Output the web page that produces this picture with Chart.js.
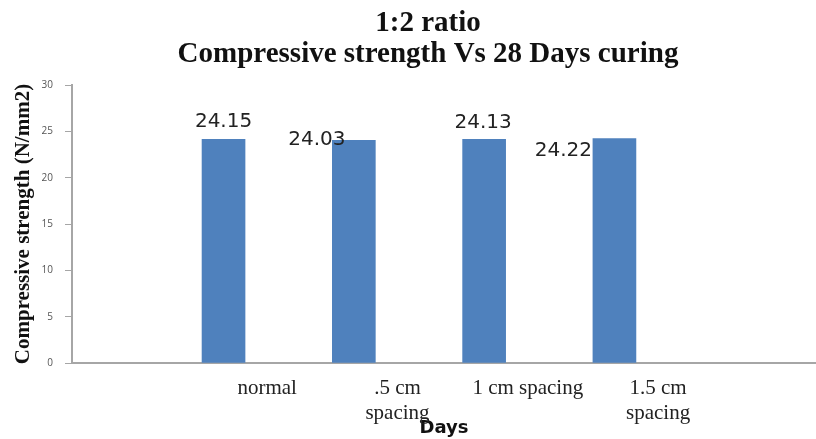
<!DOCTYPE html>
<html>
<head>
<meta charset="utf-8">
<script src="https://cdn.jsdelivr.net/npm/chart.js@4.4.0/dist/chart.umd.min.js"></script>
<style>
    body { margin: 0; background: #fff; }
    #wrap { width: 816px; height: 439px; position: relative; }
</style>
</head>
<body>
<div id="wrap"><canvas id="chart-strength"></canvas></div>
<script>
// chart data
const titleLines = ["1:2 ratio", "Compressive strength Vs 28 Days curing"];
const categories = ["normal", [".5 cm", "spacing"], "1 cm spacing", ["1.5 cm", "spacing"]];
const strength = [24.15, 24.03, 24.13, 24.22];
const yTicks = [0, 5, 10, 15, 20, 25, 30];
const xTitle = "Days";
const yTitle = "Compressive strength (N/mm2)";

// label nudges (px) relative to top of each bar
const labelDx = [0, -37, -1, -51];
const labelDy = [-17, -1, -17, 12];
const labelShift = 0.335; // category label sits right of its bar

const ctx = document.getElementById("chart-strength");

const barLabels = {
    id: "barLabels",
    afterDatasetsDraw(chart) {
        const c = chart.ctx;
        const meta = chart.getDatasetMeta(0);
        c.save();
        c.font = "20px 'DejaVu Sans'";
        c.fillStyle = "#222";
        c.textAlign = "center";
        c.textBaseline = "middle";
        meta.data.forEach((bar, i) => {
            c.fillText(strength[i].toFixed(2), bar.x + labelDx[i], bar.y + labelDy[i]);
        });
        c.restore();
    },
};

const topTitle = {
    id: "topTitle",
    afterDraw(chart) {
        const c = chart.ctx;
        c.save();
        c.font = "bold 29px 'Liberation Serif'";
        c.fillStyle = "#111";
        c.textAlign = "center";
        c.textBaseline = "alphabetic";
        titleLines.forEach((t, i) => {
            c.fillText(t, 428, 31 + i * 31);
        });
        c.restore();
    },
};

new Chart(ctx, {
    type: "bar",
    data: {
        datasets: [
            {
                label: "Compressive strength",
                data: strength.map((v, i) => ({ x: i + 1, y: v })),
                backgroundColor: "#4f81bd",
                barThickness: 43,
            },
        ],
    },
    options: {
        responsive: true,
        maintainAspectRatio: false,
        animation: false,
        layout: { padding: { top: 85, left: 0, right: 0, bottom: 0 } },
        plugins: {
            legend: { display: false },
            tooltip: { enabled: false },
        },
        scales: {
            x: {
                type: "linear",
                min: -0.163,
                max: 5.547,
                offset: false,
                grid: { display: false, drawTicks: false },
                border: { display: true, color: "#a6a6a6", width: 2 },
                afterBuildTicks: (scale) => {
                    scale.ticks = categories.map((c, i) => ({ value: i + 1 + labelShift }));
                },
                ticks: {
                    autoSkip: false,
                    maxRotation: 0,
                    padding: 13,
                    color: "#222",
                    font: { family: "'Liberation Serif'", size: 21, lineHeight: 1.2 },
                    callback: (v, i) => categories[i],
                },
                afterFit: (scale) => { scale.height = 76; },
                title: {
                    display: true,
                    text: xTitle,
                    color: "#111",
                    font: { family: "'DejaVu Sans'", size: 18, weight: "bold", lineHeight: 1.2 },
                    padding: 0,
                },
            },
            y: {
                min: 0,
                max: 30,
                afterBuildTicks: (scale) => {
                    scale.ticks = yTicks.map((v) => ({ value: v }));
                },
                grid: { drawOnChartArea: false, drawTicks: true, tickLength: 7, color: "#a6a6a6" },
                border: { display: true, color: "#a6a6a6", width: 2 },
                ticks: {
                    padding: 12,
                    color: "#555",
                    font: { family: "'Open Sans'", size: 10 },
                },
                afterFit: (scale) => { scale.width = 72; },
                title: {
                    display: true,
                    text: yTitle,
                    color: "#111",
                    font: { family: "'Liberation Serif'", size: 21, weight: "bold", lineHeight: 1.2 },
                    padding: { top: 11, bottom: 0 },
                },
            },
        },
    },
    plugins: [barLabels, topTitle],
});
</script>
</body>
</html>
